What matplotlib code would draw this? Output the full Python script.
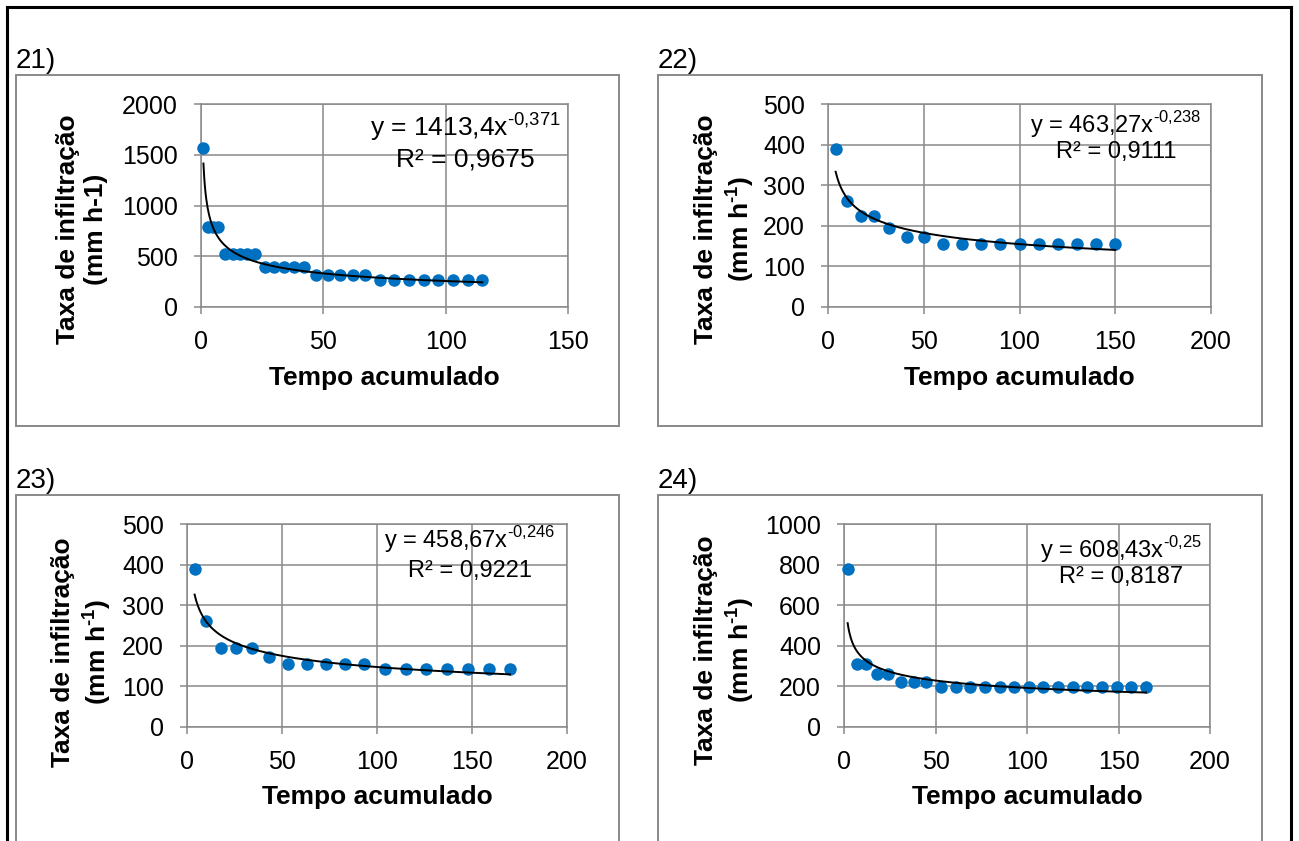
import numpy as np
import matplotlib.pyplot as plt
from matplotlib.lines import Line2D
from matplotlib.patches import Rectangle

plt.rcParams['font.family'] = ['Liberation Sans', 'DejaVu Sans']

# --- data ---
tempo_21 = [1, 3, 5, 7, 10, 13, 16, 19, 22, 26, 30, 34, 38, 42, 47, 52, 57, 62, 67,
            73, 79, 85, 91, 97, 103, 109, 115]
taxa_21 = [1570, 785, 785, 785, 523, 523, 523, 523, 523, 393, 393, 393, 393, 393,
           314, 314, 314, 314, 314, 262, 262, 262, 262, 262, 262, 262, 262]

tempo_22 = [4, 10, 17, 24, 32, 41, 50, 60, 70, 80, 90, 100, 110, 120, 130, 140, 150]
taxa_22 = [390, 260, 223, 223, 195, 173, 173, 156, 156, 156, 156, 156, 156, 156, 156, 156, 156]

tempo_23 = [4, 10, 18, 26, 34, 43, 53, 63, 73, 83, 93, 104, 115, 126, 137, 148, 159, 170]
taxa_23 = [390, 260, 195, 195, 195, 173, 156, 156, 156, 156, 156, 142, 142, 142, 142, 142, 142, 142]

tempo_24 = [2, 7, 12, 18, 24, 31, 38, 45, 53, 61, 69, 77, 85, 93, 101, 109, 117, 125,
            133, 141, 149, 157, 165]
taxa_24 = [780, 312, 312, 260, 260, 223, 223, 223, 195, 195, 195, 195, 195, 195, 195,
           195, 195, 195, 195, 195, 195, 195, 195]

coef_a = [1413.4, 463.27, 458.67, 608.43]
coef_b = [-0.371, -0.238, -0.246, -0.25]
coef_a_txt = ['1413,4', '463,27', '458,67', '608,43']
# U+2010 hyphen so mathtext keeps a short dash instead of a minus sign
coef_b_txt = ['\u20100{,}371', '\u20100{,}238', '\u20100{,}246', '\u20100{,}25']
r2_txt = ['0,9675', '0,9111', '0,9221', '0,8187']
tags = ['21)', '22)', '23)', '24)']
y_max = [2000, 500, 500, 1000]
y_step = [500, 100, 100, 200]
x_max = [150, 200, 200, 200]
ylabels = ['Taxa de infiltração\n(mm h-1)',
           'Taxa de infiltração\n(mm h$^{\\mathregular{\u20101}}$)',
           'Taxa de infiltração\n(mm h$^{\\mathregular{\u20101}}$)',
           'Taxa de infiltração\n(mm h$^{\\mathregular{\u20101}}$)']

tempos = [tempo_21, tempo_22, tempo_23, tempo_24]
taxas = [taxa_21, taxa_22, taxa_23, taxa_24]

# --- layout in pixels ---
W, H = 1299, 841
ax_box = [(201, 104, 568, 307), (828, 104, 1211, 307),
          (187, 524, 567, 727), (844, 524, 1210, 727)]
frame_box = [(16, 75, 619, 426), (658, 75, 1262, 426),
             (16, 495, 619, 880), (658, 495, 1262, 880)]
tag_pos = [(16, 68), (658, 68), (16, 488), (658, 488)]
ylab_pos = [(82, 229), (725, 229), (82, 652), (725, 650)]
xlab_y = [378, 378, 797, 797]
eq_pos = [(465, 136, 167), (1116, 133, 158), (470, 548, 577), (1121, 558, 583)]
eq_size = [19, 17, 17, 17]

gray = '#898989'
blue = '#0070C0'


def fx(px):
    return px / W


def fy(py):
    return 1 - py / H


fig = plt.figure(figsize=(W / 100, H / 100), dpi=100)

# outer black border (open at the bottom)
for xs, ys in [([7, 7], [7, 850]), ([7, 1291], [7, 7]), ([1291, 1291], [7, 850])]:
    fig.add_artist(Line2D([fx(v) for v in xs], [fy(v) for v in ys], color='black', lw=2.2))

for i in range(4):
    l, t, r, b = frame_box[i]
    fig.add_artist(Rectangle((fx(l), fy(b)), (r - l) / W, (b - t) / H, fill=False,
                             edgecolor=gray, lw=1.4, transform=fig.transFigure))
    fig.text(fx(tag_pos[i][0]), fy(tag_pos[i][1]), tags[i], fontsize=20,
             ha='left', va='baseline')

    l, t, r, b = ax_box[i]
    ax = fig.add_axes([fx(l), fy(b), (r - l) / W, (b - t) / H])
    x = np.array(tempos[i], dtype=float)
    y = np.array(taxas[i], dtype=float)
    ax.plot(x, y, 'o', color=blue, ms=9, mec='none', zorder=3, clip_on=False)
    xs = np.linspace(x[0], x[-1], 400)
    ax.plot(xs, coef_a[i] * xs ** coef_b[i], color='black', lw=1.4, zorder=4)

    ax.set_xlim(0, x_max[i])
    ax.set_ylim(0, y_max[i])
    ax.set_xticks(range(0, x_max[i] + 1, 50))
    ax.set_yticks(range(0, y_max[i] + 1, y_step[i]))
    ax.grid(True, color=gray, lw=1.1)
    ax.set_axisbelow(True)
    for s in ax.spines.values():
        s.set_color(gray)
        s.set_linewidth(1.1)
    ax.tick_params(direction='out', length=5, width=1.1, color=gray,
                   labelsize=18, pad=11.5)

    fig.text(fx(ylab_pos[i][0]), fy(ylab_pos[i][1]), ylabels[i], rotation=90,
             ha='center', va='center', multialignment='center',
             fontsize=19, fontweight='bold')
    fig.text(fx((l + r) / 2), fy(xlab_y[i]), 'Tempo acumulado', ha='center',
             va='center', fontsize=19, fontweight='bold')

    cx, b1, b2 = eq_pos[i]
    fig.text(fx(cx), fy(b1), 'y = %sx$^{\\mathregular{%s}}$' % (coef_a_txt[i], coef_b_txt[i]),
             ha='center', va='baseline', fontsize=eq_size[i])
    fig.text(fx(cx), fy(b2), 'R² = %s' % r2_txt[i], ha='center', va='baseline',
             fontsize=eq_size[i])

fig.savefig('out.png', dpi=100)
